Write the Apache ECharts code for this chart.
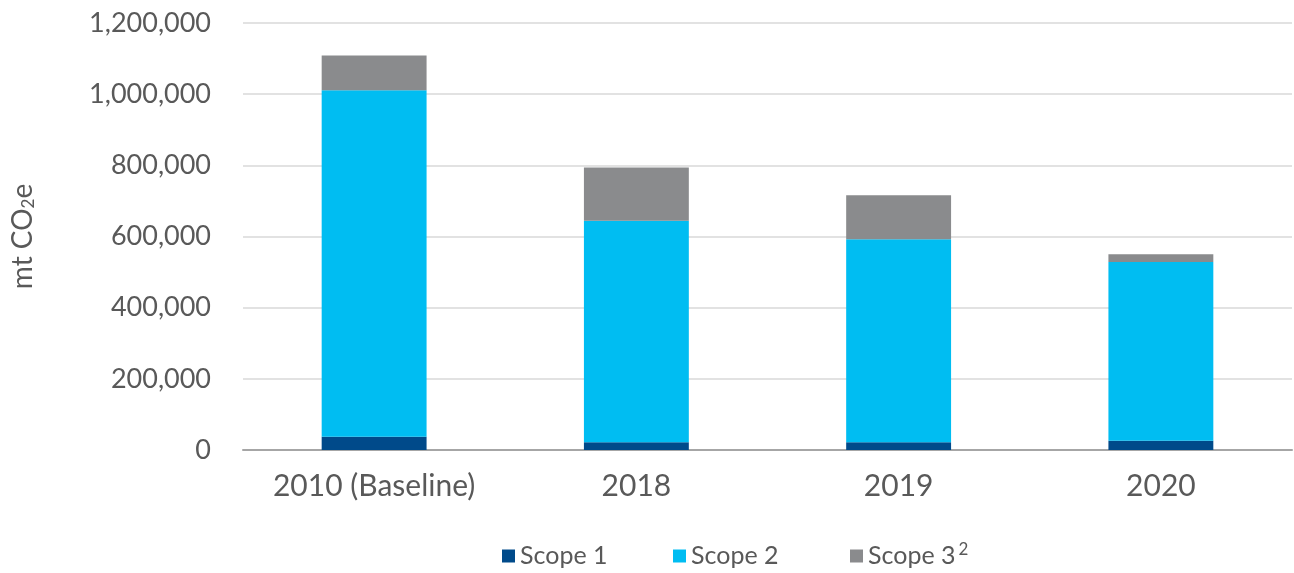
<!DOCTYPE html>
<html>
<head>
<meta charset="utf-8">
<script src="https://cdn.jsdelivr.net/npm/echarts@6/dist/echarts.min.js"></script>
<style>
html,body{margin:0;padding:0;background:#fff;}
#chart{width:1294px;height:573px;}
</style>
</head>
<body>
<div id="chart"></div>
<script>
const categories = ['2010 (Baseline)', '2018', '2019', '2020'];
const scope1 = [37000, 22000, 22000, 26000];
const scope2 = [974000, 622000, 570000, 502000];
const scope3 = [98000, 150000, 124000, 22000];
const seriesNames = ['Scope 1', 'Scope 2', 'Scope 3'];
const colors = ['#004a8a', '#00bdf2', '#8a8b8d'];
const yTicks = { min: 0, max: 1200000, interval: 200000 };

const FONT = 'Lato, "Open Sans", sans-serif';
const chart = echarts.init(document.getElementById('chart'));
const data = [scope1, scope2, scope3];
const legendLefts = [502, 673, 850];
const legends = seriesNames.map((n, i) => ({
  top: 541,
  left: legendLefts[i],
  padding: 0,
  itemWidth: 13,
  itemHeight: 13,
  icon: 'rect',
  textStyle: {
    fontSize: 25, color: '#595959', fontFamily: FONT,
    rich: {
      t: { fontSize: 25, lineHeight: 30, color: '#595959', fontFamily: FONT },
      sup: { fontSize: 17, lineHeight: 16, color: '#595959', verticalAlign: 'top', padding: [0, 0, 6, 3], fontFamily: FONT }
    }
  },
  formatter: function (nm) { return '{t|' + nm + '}{sup|' + (nm === 'Scope 3' ? '2' : ' ') + '}'; },
  data: [n]
}));
chart.setOption({
  animation: false,
  color: colors,
  textStyle: { fontFamily: FONT },
  grid: { left: 243, right: 2, top: 23, bottom: 123 },
  legend: legends,
  xAxis: {
    type: 'category',
    data: categories,
    axisLine: { lineStyle: { color: '#a6a6a6', width: 2 } },
    axisTick: { show: false },
    axisLabel: { interval: 0, fontSize: 30, color: '#595959', margin: 21, fontFamily: FONT }
  },
  yAxis: {
    type: 'value',
    min: yTicks.min, max: yTicks.max, interval: yTicks.interval,
    name: '{a|mt CO}{b|2}{a|e}',
    nameLocation: 'middle',
    nameGap: 206,
    nameRotate: 90,
    nameTextStyle: {
      rich: {
        a: { fontSize: 28, color: '#595959', fontFamily: FONT },
        b: { fontSize: 17, color: '#595959', fontFamily: FONT, padding: [12, 0, 0, 0] }
      }
    },
    axisLine: { show: false },
    axisTick: { show: false },
    splitLine: { lineStyle: { color: '#d9d9d9', width: 1.5 } },
    axisLabel: {
      fontSize: 27, color: '#595959', margin: 32, fontFamily: FONT,
      formatter: function (v) { return v.toLocaleString('en-US'); }
    }
  },
  series: seriesNames.map((n, i) => ({
    name: n,
    type: 'bar',
    stack: 'total',
    barWidth: '40%',
    data: data[i],
    itemStyle: { color: colors[i] }
  }))
});
</script>
</body>
</html>
